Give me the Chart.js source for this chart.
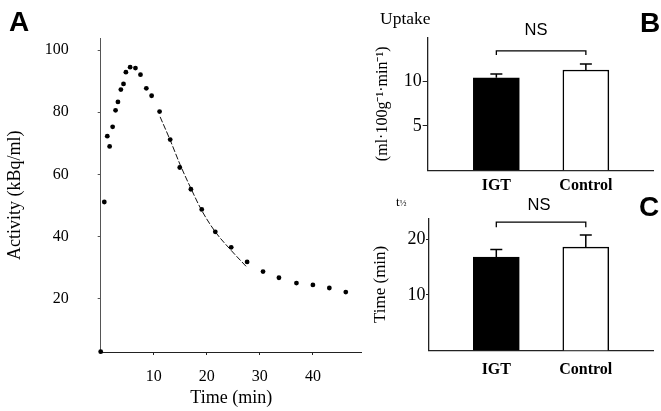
<!DOCTYPE html>
<html><head><meta charset="utf-8">
<script src="https://cdn.jsdelivr.net/npm/chart.js@4"></script>
<style>
html,body{margin:0;padding:0;background:#fff}
body{width:661px;height:411px;position:relative;overflow:hidden;font-family:"Liberation Serif",serif;color:#000}
canvas{position:absolute}
.t{position:absolute;white-space:nowrap;line-height:1;color:#000}
.sans{font-family:"Liberation Sans",Arial,sans-serif}
.let{font-family:"Liberation Sans",Arial,sans-serif;font-weight:bold;font-size:28px}
</style></head><body>
<canvas id="ca" width="370" height="411" style="left:0;top:0"></canvas>
<canvas id="cb" width="321" height="200" style="left:340px;top:0"></canvas>
<canvas id="cc" width="321" height="211" style="left:340px;top:200px"></canvas>

<div class="t let" style="left:9px;top:8px">A</div>
<div class="t let" style="left:640px;top:9px">B</div>
<div class="t let" style="left:639px;top:193px">C</div>
<div class="t sans" style="left:536px;top:21px;font-size:16.5px;transform:translateX(-50%)">NS</div>
<div class="t sans" style="left:539px;top:196px;font-size:16.5px;transform:translateX(-50%)">NS</div>
<div class="t" style="left:380px;top:10px;font-size:17.5px">Uptake</div>
<div class="t" style="left:396px;top:195px;font-size:13px">t<span style="font-size:9px">½</span></div>

<script>
// ---- Panel A data: tissue activity curve ----
const timeMin = [0, 0.68, 1.24, 1.68, 2.25, 2.8, 3.25, 3.8, 4.3, 4.75, 5.55, 6.55, 7.5, 8.6, 9.6,
                 11.1, 13.1, 14.9, 17.0, 19.05, 21.6, 24.6, 27.6, 30.6, 33.6, 36.9, 40.0, 43.1, 46.2];
const activity = [2.9, 51.1, 72.3, 69.0, 75.3, 80.6, 83.3, 87.3, 89.1, 92.9, 94.5, 94.2, 92.1, 87.7, 85.3,
                  80.2, 71.2, 62.2, 55.2, 48.7, 41.5, 36.5, 31.8, 28.7, 26.7, 25.0, 24.4, 23.4, 22.1];
const fitTime = [11.2, 13.1, 15.0, 17.0, 19.0, 21.6, 24.6, 27.5];
const fitActivity = [78.5, 71.0, 63.0, 55.5, 48.5, 41.5, 35.5, 30.2];
const xTicksA = [10, 20, 30, 40];
const yTicksA = [20, 40, 60, 80, 100];

// ---- Panels B and C data ----
const groups = ['IGT', 'Control'];
const uptake = [10.44, 11.31];
const uptakeErr = [0.42, 0.67];
const yTicksB = [5, 10];
const halfTime = [16.8, 18.6];
const halfTimeErr = [1.4, 2.2];
const yTicksC = [10, 20];

const SERIF = '"Liberation Serif", "Times New Roman", serif';
const AX = '#222';
Chart.defaults.animation = false;
Chart.defaults.color = '#000';

const setTicks = arr => s => { s.ticks = arr.map(v => ({value: v})); };

new Chart(document.getElementById('ca'), {
  type: 'scatter',
  data: {
    datasets: [
      {data: timeMin.map((t, i) => ({x: t, y: activity[i]})), pointRadius: 2.4, pointBackgroundColor: '#000',
       pointBorderWidth: 0, showLine: false, clip: false},
      {type: 'line', data: fitTime.map((t, i) => ({x: t, y: fitActivity[i]})), pointRadius: 0, borderColor: '#111',
       borderWidth: 1, borderDash: [6, 2], tension: 0.4, cubicInterpolationMode: 'monotone', fill: false}
    ]
  },
  options: {
    responsive: false,
    layout: {padding: {top: 23, right: 8.3, left: 0, bottom: 0}},
    plugins: {legend: {display: false}, tooltip: {enabled: false}},
    scales: {
      x: {type: 'linear', min: 0, max: 49.2, afterBuildTicks: setTicks(xTicksA), afterFit: s => { s.height = 59; },
          grid: {drawOnChartArea: false, drawTicks: true, tickLength: 3, color: AX},
          border: {color: AX, width: 1},
          ticks: {font: {family: SERIF, size: 16}, color: '#000', padding: 12, maxRotation: 0},
          title: {display: true, text: 'Time (min)', font: {family: SERIF, size: 18}, color: '#000', padding: {top: 0, bottom: 2.2}}},
      y: {min: 2.8, max: 103.7, afterBuildTicks: setTicks(yTicksA), afterFit: s => { s.width = 100.7; },
          grid: {drawOnChartArea: false, drawTicks: true, tickLength: 3, color: '#555'},
          border: {color: '#555', width: 1},
          ticks: {font: {family: SERIF, size: 16}, color: '#000', padding: 29},
          title: {display: true, text: 'Activity (kBq/ml)', font: {family: SERIF, size: 18}, color: '#000', padding: {top: 4.2}}}
    }
  }
});

const errorBars = {
  id: 'errorBars',
  afterDatasetsDraw(chart, args, o) {
    const ctx = chart.ctx, meta = chart.getDatasetMeta(0), ys = chart.scales.y, xs = chart.scales.x;
    ctx.save();
    ctx.strokeStyle = '#000';
    ctx.lineWidth = 1.5;
    o.values.forEach((v, i) => {
      const bar = meta.data[i];
      const y1 = ys.getPixelForValue(v + o.err[i]);
      ctx.beginPath();
      ctx.moveTo(bar.x, bar.y); ctx.lineTo(bar.x, y1);
      ctx.moveTo(bar.x - 6, y1); ctx.lineTo(bar.x + 6, y1);
      ctx.stroke();
    });
    const xa = xs.getPixelForValue(1), xb = xs.getPixelForValue(2);
    const yt = ys.getPixelForValue(o.bracket), yd = ys.getPixelForValue(o.bracketEnd);
    ctx.lineWidth = 1.3;
    ctx.beginPath();
    ctx.moveTo(xa, yd); ctx.lineTo(xa, yt); ctx.lineTo(xb, yt); ctx.lineTo(xb, yd);
    ctx.stroke();
    ctx.restore();
  }
};

function barChart(id, vals, errs, yMax, yTicks, yTitle, titleSize, xMin, xMax, pad, xH, yW, tickLen, tickPad, labPad, tOff, bracket, bracketEnd) {
  new Chart(document.getElementById(id), {
    type: 'bar',
    data: {datasets: [{data: vals.map((v, i) => ({x: i + 1, y: v})), backgroundColor: ['#000', '#fff'],
                       borderColor: '#000', borderWidth: [1, 1.5], barThickness: 46, borderSkipped: 'bottom'}]},
    options: {
      responsive: false,
      layout: {padding: pad},
      plugins: {legend: {display: false}, tooltip: {enabled: false},
                errorBars: {values: vals, err: errs, bracket: bracket, bracketEnd: bracketEnd}},
      scales: {
        x: {type: 'linear', min: xMin, max: xMax, offset: false, afterBuildTicks: setTicks([1, 2]),
            afterFit: s => { s.height = xH; },
            grid: {drawOnChartArea: false, drawTicks: false, color: AX},
            border: {color: AX, width: 1.3},
            ticks: {font: {family: SERIF, size: 16, weight: 'bold'}, color: '#000', padding: labPad, maxRotation: 0,
                    callback: (v, i) => groups[i]}},
        y: {min: 0, max: yMax, afterBuildTicks: setTicks(yTicks), afterFit: s => { s.width = yW; },
            grid: {drawOnChartArea: false, drawTicks: true, tickLength: tickLen, color: AX},
            border: {color: AX, width: 1.3},
            ticks: {font: {family: SERIF, size: 18}, color: '#000', padding: tickPad},
            title: {display: true, text: yTitle, font: {family: SERIF, size: titleSize}, color: '#000', padding: {top: tOff}}}
      }
    },
    plugins: [errorBars]
  });
}

barChart('cb', uptake, uptakeErr, 15.0, yTicksB, '(ml·100g⁻¹·min⁻¹)', 16, 0.233, 2.75,
         {top: 37.3, right: 8, left: 0, bottom: 0}, 29.7, 87.7, 5, 1, 6, 33.4, 13.48, 13.0);
barChart('cc', halfTime, halfTimeErr, 23.8, yTicksC, 'Time (min)', 17, 0.248, 2.751,
         {top: 18.3, right: 8, left: 0, bottom: 0}, 60.5, 89, 3, 0.5, 10, 30, 23.1, 22.2);
</script>
</body></html>
